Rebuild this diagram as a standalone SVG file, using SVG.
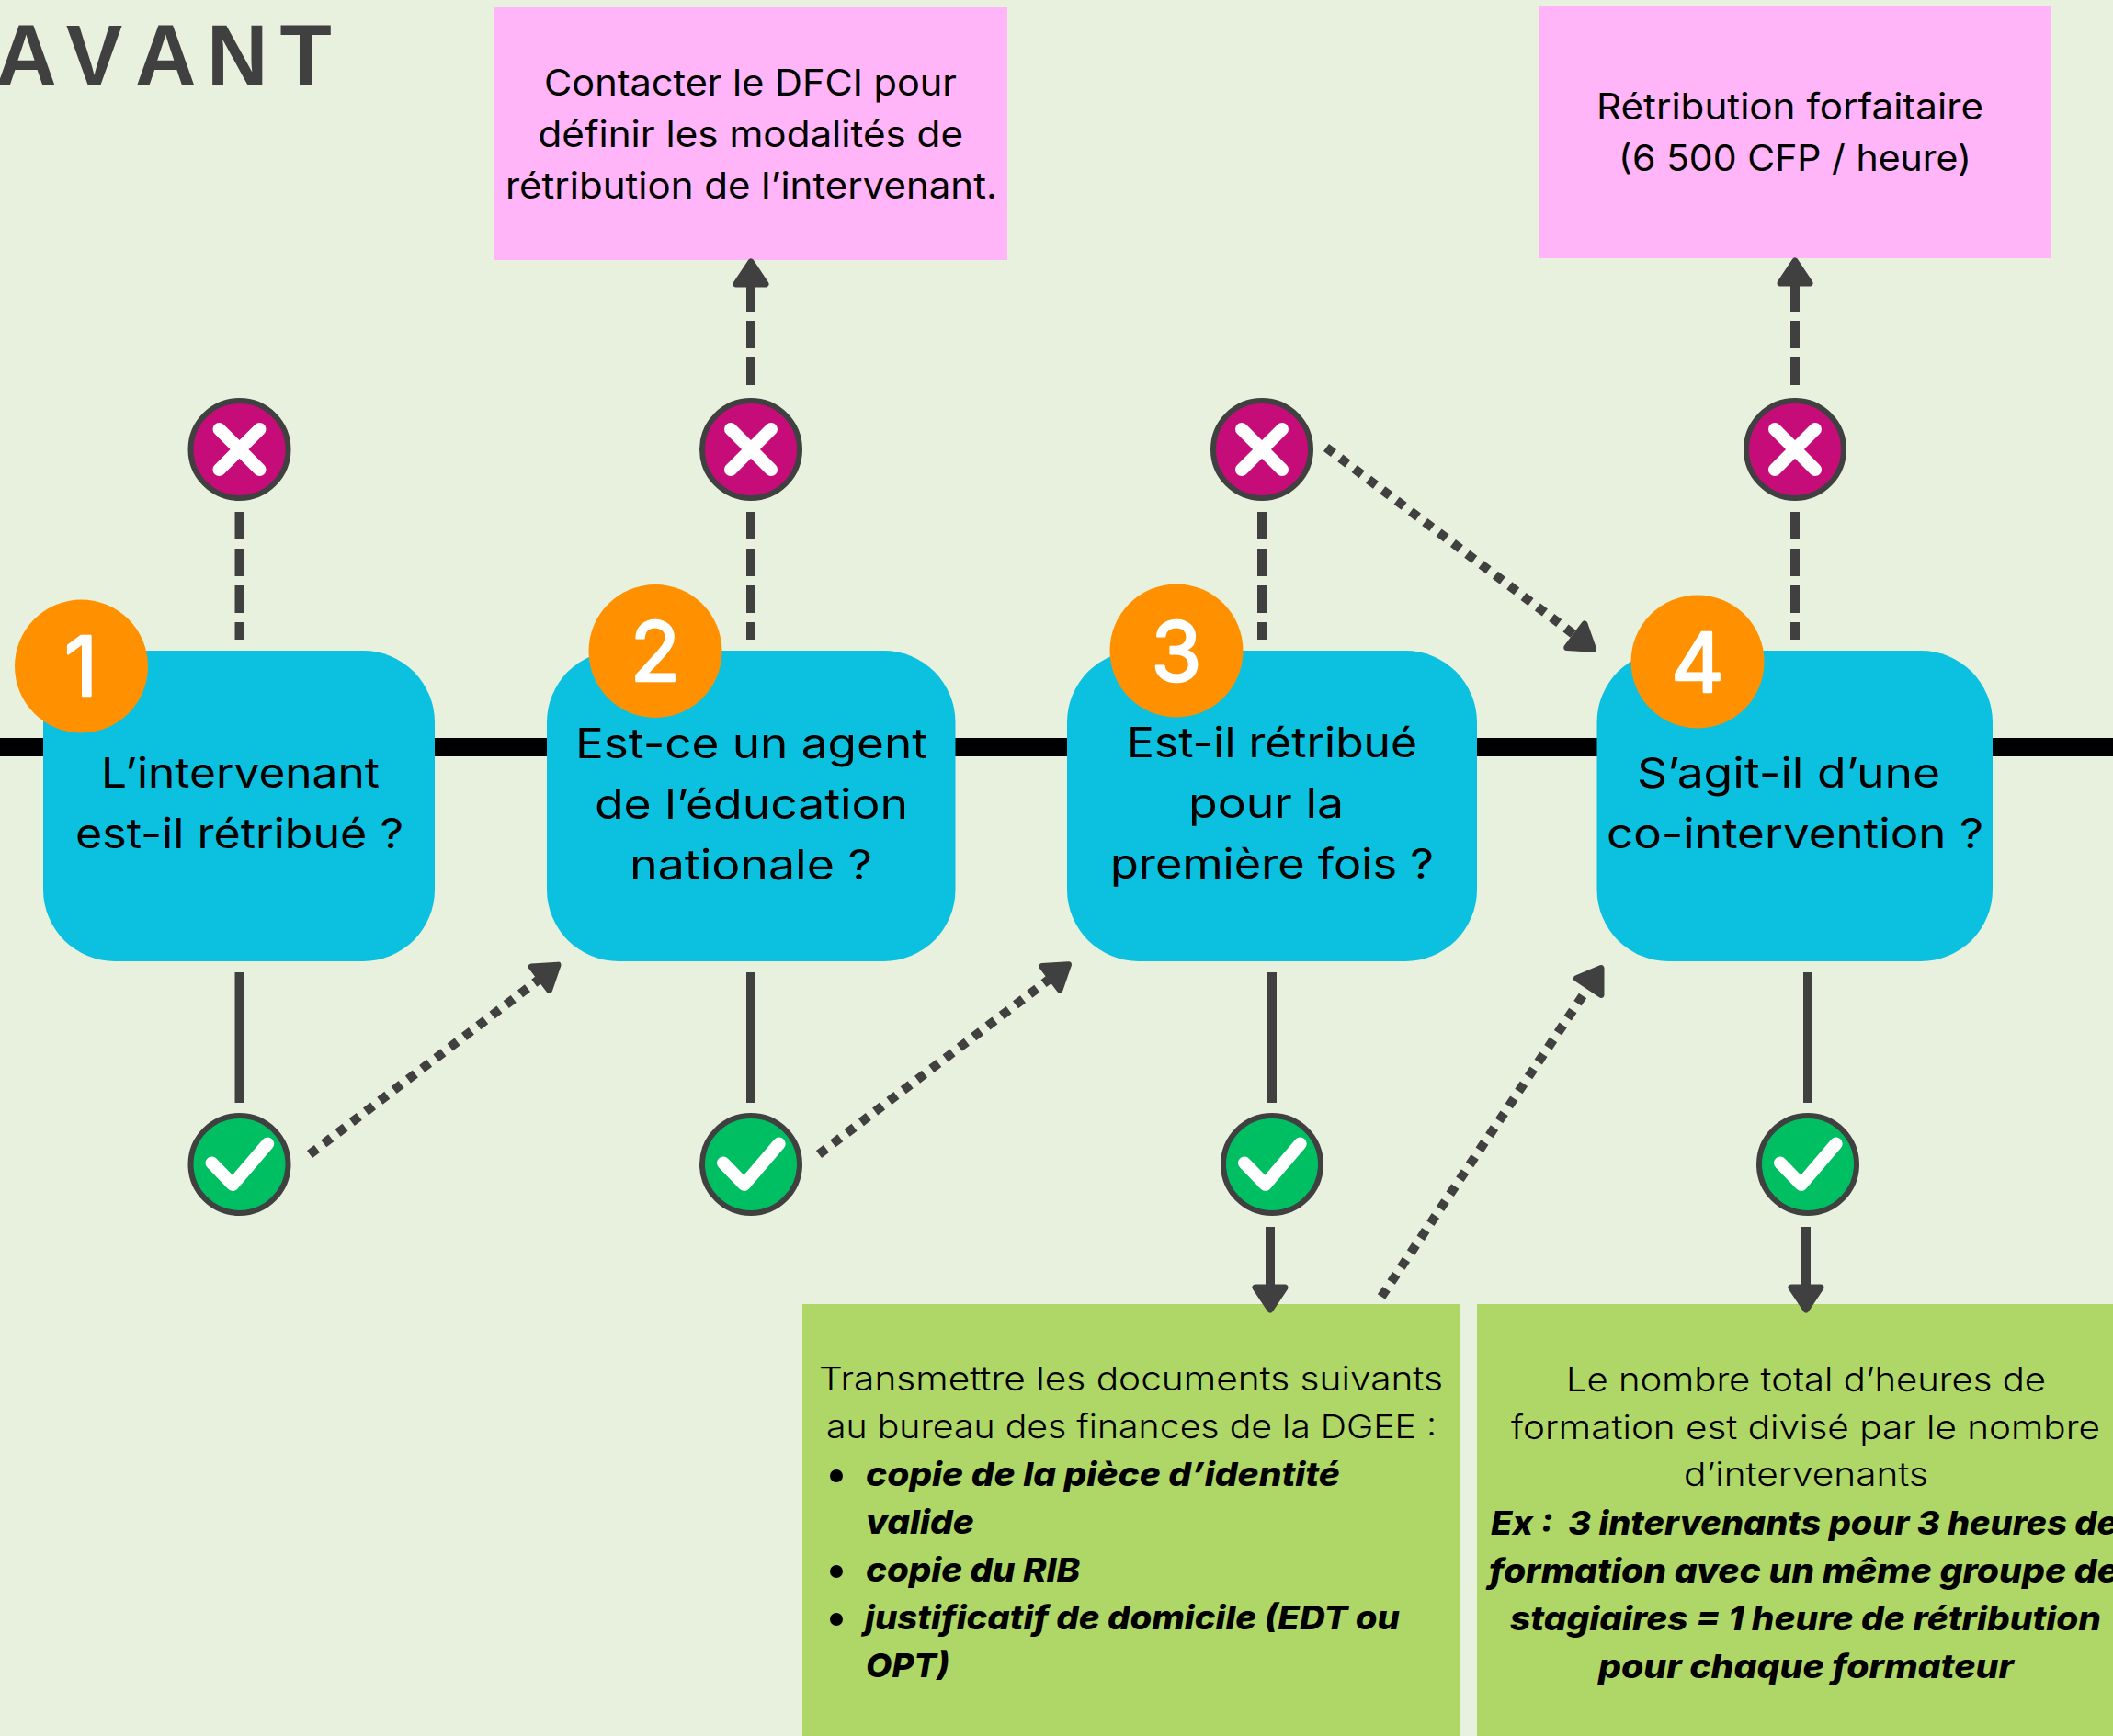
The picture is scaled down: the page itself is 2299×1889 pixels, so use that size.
<svg xmlns="http://www.w3.org/2000/svg" width="2299" height="1889" viewBox="0 0 2299 1889">
<style>
text{font-family:"Inter","Liberation Sans",sans-serif;fill:#000}
.q{font-size:45px}
.p{font-size:39px}
.g{font-size:35.500px;font-weight:300}
.b{font-size:36px;font-weight:800;font-style:italic}
.num{font-size:89px;font-weight:400;fill:#fff;stroke:#fff;stroke-width:2.500;stroke-linejoin:round;text-anchor:middle}
.title{font-family:"Liberation Sans",sans-serif;font-size:95px;font-weight:700;fill:#404040}
.blue{fill:#0CC0DF}.orange{fill:#FF9100}.pink{fill:#FFB5F8}.lime{fill:#AFD768}
.no{fill:#C60C78;stroke:#404040;stroke-width:6}
.yes{fill:#00BF63;stroke:#404040;stroke-width:6}
.ic{fill:none;stroke:#fff;stroke-width:14;stroke-linecap:round;stroke-linejoin:round}
.solid{fill:none;stroke:#404040;stroke-width:10}
.dash{fill:none;stroke:#404040;stroke-width:10;stroke-dasharray:30 10}
.dot{fill:none;stroke:#404040;stroke-width:10;stroke-dasharray:10 9.200}
</style>
<defs>
<marker id="head" markerUnits="userSpaceOnUse" orient="auto" refX="0" refY="0" markerWidth="1" markerHeight="1" overflow="visible">
<path d="M3,-16 L27,0 L3,16 Z" fill="#404040" stroke="#404040" stroke-width="7" stroke-linejoin="round"/>
</marker>
<path id="x" class="ic" d="M-22,-22 L22,22 M22,-22 L-22,22"/>
<path id="v" class="ic" d="M-30,-1.500 L-7.300,22 L30.700,-22.500"/>
</defs>
<rect id="background" width="2299" height="1889" fill="#E8F1DE"/>
<g id="title"><text class="title" transform="scale(.97,1)" x="-5 74 151.500 232 314" y="93">AVANT</text></g>
<g id="timeline"><rect x="0" y="803" width="2299" height="20" fill="#000"/></g>

<g id="q1"><rect class="blue" x="47" y="708" width="426" height="338" rx="78"/><circle class="orange" cx="88.500" cy="725" r="72.500"/><text class="num" x="88" y="757">1</text>
<text class="q" x="110" y="857" textLength="303" lengthAdjust="spacingAndGlyphs">L’intervenant</text>
<text class="q" x="82" y="923" textLength="357" lengthAdjust="spacingAndGlyphs">est-il rétribué ?</text></g>

<g id="q2"><rect class="blue" x="595" y="708" width="444.500" height="338" rx="78"/><circle class="orange" cx="713" cy="708.500" r="72.500"/><text class="num" x="713" y="741">2</text>
<text class="q" x="626" y="825" textLength="383" lengthAdjust="spacingAndGlyphs">Est-ce un agent</text>
<text class="q" x="647" y="891" textLength="341" lengthAdjust="spacingAndGlyphs">de l’éducation</text>
<text class="q" x="685" y="957" textLength="264" lengthAdjust="spacingAndGlyphs">nationale ?</text></g>

<g id="q3"><rect class="blue" x="1161" y="708" width="446" height="338" rx="78"/><circle class="orange" cx="1280" cy="708" r="72.500"/><text class="num" x="1280" y="741">3</text>
<text class="q" x="1226" y="824" textLength="316" lengthAdjust="spacingAndGlyphs">Est-il rétribué</text>
<text class="q" x="1293" y="890" textLength="169" lengthAdjust="spacingAndGlyphs">pour la</text>
<text class="q" x="1208" y="956" textLength="352" lengthAdjust="spacingAndGlyphs">première fois ?</text></g>

<g id="q4"><rect class="blue" x="1737.500" y="708" width="430.500" height="338" rx="78"/><circle class="orange" cx="1847" cy="720" r="72.500"/><text class="num" x="1847" y="753">4</text>
<text class="q" x="1781" y="857" textLength="330" lengthAdjust="spacingAndGlyphs">S’agit-il d’une</text>
<text class="q" x="1748" y="923" textLength="410" lengthAdjust="spacingAndGlyphs">co-intervention ?</text></g>

<g id="no1"><circle class="no" cx="260.500" cy="489" r="53"/><use href="#x" x="260.500" y="489"/></g>
<g id="no2"><circle class="no" cx="817" cy="489" r="53"/><use href="#x" x="817" y="489"/></g>
<g id="no3"><circle class="no" cx="1373" cy="489" r="53"/><use href="#x" x="1373" y="489"/></g>
<g id="no4"><circle class="no" cx="1953" cy="489" r="53"/><use href="#x" x="1953" y="489"/></g>
<g id="yes1"><circle class="yes" cx="260.500" cy="1267" r="53"/><use href="#v" x="260.500" y="1267"/></g>
<g id="yes2"><circle class="yes" cx="817" cy="1267" r="53"/><use href="#v" x="817" y="1267"/></g>
<g id="yes3"><circle class="yes" cx="1384" cy="1267" r="53"/><use href="#v" x="1384" y="1267"/></g>
<g id="yes4"><circle class="yes" cx="1967" cy="1267" r="53"/><use href="#v" x="1967" y="1267"/></g>

<g id="pink1"><rect class="pink" x="538" y="8" width="558" height="275"/>
<text class="p" x="592" y="103.500" textLength="449" lengthAdjust="spacingAndGlyphs">Contacter le DFCI pour</text>
<text class="p" x="585.500" y="159.500" textLength="462.500" lengthAdjust="spacingAndGlyphs">définir les modalités de</text>
<text class="p" x="550" y="215.500" textLength="535" lengthAdjust="spacingAndGlyphs">rétribution de l’intervenant.</text></g>
<g id="pink2"><rect class="pink" x="1674" y="6" width="558" height="275"/>
<text class="p" x="1737" y="130" textLength="421" lengthAdjust="spacingAndGlyphs">Rétribution forfaitaire</text>
<text class="p" x="1761" y="186" textLength="384" lengthAdjust="spacingAndGlyphs">(6 500 CFP / heure)</text></g>

<g id="docs"><rect class="lime" x="873" y="1419" width="716" height="470"/>
<text class="g" x="891" y="1513" textLength="679" lengthAdjust="spacingAndGlyphs">Transmettre les documents suivants</text>
<text class="g" x="899" y="1565" textLength="664" lengthAdjust="spacingAndGlyphs">au bureau des finances de la DGEE :</text>
<circle cx="910" cy="1606" r="7"/><circle cx="910" cy="1710" r="7"/><circle cx="910" cy="1762" r="7"/>
<text class="b" x="942" y="1617" textLength="516" lengthAdjust="spacingAndGlyphs">copie de la pièce d’identité</text>
<text class="b" x="942" y="1669" textLength="118" lengthAdjust="spacingAndGlyphs">valide</text>
<text class="b" x="942" y="1721" textLength="233" lengthAdjust="spacingAndGlyphs">copie du RIB</text>
<text class="b" x="941" y="1773" textLength="582" lengthAdjust="spacingAndGlyphs">justificatif de domicile (EDT ou</text>
<text class="b" x="942" y="1825" textLength="91" lengthAdjust="spacingAndGlyphs">OPT)</text></g>

<g id="hours"><rect class="lime" x="1607" y="1419" width="692" height="470"/>
<text class="g" x="1704" y="1514" textLength="522" lengthAdjust="spacingAndGlyphs">Le nombre total d’heures de</text>
<text class="g" x="1644" y="1566" textLength="641" lengthAdjust="spacingAndGlyphs">formation est divisé par le nombre</text>
<text class="g" x="1832" y="1617" textLength="266" lengthAdjust="spacingAndGlyphs">d’intervenants</text>
<text class="b" xml:space="preserve" x="1622" y="1670" textLength="682" lengthAdjust="spacingAndGlyphs">Ex :  3 intervenants pour 3 heures de</text>
<text class="b" x="1620" y="1722" textLength="685" lengthAdjust="spacingAndGlyphs">formation avec un même groupe de</text>
<text class="b" x="1643" y="1774" textLength="643" lengthAdjust="spacingAndGlyphs">stagiaires = 1 heure de rétribution</text>
<text class="b" x="1739" y="1826" textLength="452" lengthAdjust="spacingAndGlyphs">pour chaque formateur</text></g>

<g id="connectors">
<path class="dash" d="M260.500,557V696"/><path class="dash" d="M817,557V696"/><path class="dash" d="M1373,557V696"/><path class="dash" d="M1953,557V696"/>
<path class="solid" d="M260.500,1058V1200"/><path class="solid" d="M817,1058V1200"/><path class="solid" d="M1384,1058V1200"/><path class="solid" d="M1967,1058V1200"/>
<path class="dash" d="M817,419V312" marker-end="url(#head)"/>
<path class="dash" d="M1953,419V311" marker-end="url(#head)"/>
<path class="solid" d="M1382,1335V1398" marker-end="url(#head)"/>
<path class="solid" d="M1965,1335V1398" marker-end="url(#head)"/>
<path class="dot" d="M337,1256L585.500,1066.500" marker-end="url(#head)"/>
<path class="dot" d="M891,1256L1141,1066" marker-end="url(#head)"/>
<path class="dot" d="M1443,487L1712,690" marker-end="url(#head)"/>
<path class="dot" d="M1503,1411L1727,1076" marker-end="url(#head)"/>
</g>
</svg>
